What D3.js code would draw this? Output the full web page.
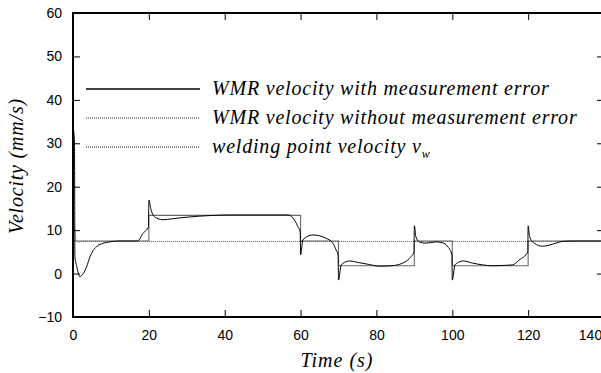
<!DOCTYPE html>
<html>
<head>
<meta charset="utf-8">
<script src="https://cdn.jsdelivr.net/npm/d3@7"></script>
<style>
  body { margin: 0; background: #fff; }
  svg { display: block; }
  .serif { font-family: 'Liberation Serif', 'DejaVu Serif', serif; font-style: italic; font-size: 20px; letter-spacing: 0.8px; }
  .tick text { font-family: 'Liberation Sans', Arial, sans-serif; font-size: 14px; }
</style>
</head>
<body>
<script>
// chart size and plot frame
const width = 601;
const height = 373;
const margin = { top: 13, left: 73, bottom: 56 };
const plotRight = 604; // right border lies just past the window edge

// x/y ticks
const xTicks = [0, 20, 40, 60, 80, 100, 120, 140];
const yTicks = [-10, 0, 10, 20, 30, 40, 50, 60];

// welding point velocity (square wave): breakpoints and levels
const stepTimes = [0, 20, 60, 70, 90, 100, 120, 140];
const stepLevels = [7.5, 13.4, 7.5, 1.8, 7.5, 1.8, 7.5, 7.5];

const errTimes = [0, 0.4, 0.5, 1, 1.8, 2.7, 3.6, 4.5, 5.3, 6.2, 8, 9.7, 12, 17, 18.5, 19.9,
  20, 20.5, 21.1, 22.5, 23.8, 26, 29, 33, 37, 42, 56.7, 58.4, 59.3, 59.9,
  60, 60.6, 61.9, 63.2, 65, 66.8, 68.5, 69.4, 69.9,
  70, 70.7, 71.1, 72.9, 75.5, 78, 80.8, 84, 86.9, 88.7, 89.9,
  90, 90.4, 91.3, 93, 95.7, 97.4, 98.8, 99.9,
  100, 100.7, 101.1, 102.9, 105.4, 108, 110.6, 114, 115.9, 117.6, 119.9,
  120, 120.4, 121.6, 123.8, 127.3, 129, 132, 140];
const errValues = [34, 30, 4, 1.6, -0.7, 0, 1.6, 3.9, 5.3, 6.2, 7, 7.3, 7.5, 7.5, 9.3, 10.8,
  16.9, 15, 13.5, 12.6, 12.4, 12.6, 12.9, 13.2, 13.4, 13.5, 13.5, 12.3, 10.8, 9.6,
  4.3, 7.7, 8.6, 8.9, 8.7, 8.1, 7, 5.4, 4.3,
  -1.5, 2, 2.3, 2.9, 2.5, 2.1, 1.7, 1.8, 2.4, 3.5, 5,
  11, 8.5, 7.3, 7, 7.3, 7.1, 6.2, 4.3,
  -1.5, 2, 2.3, 2.9, 2.4, 2.0, 1.8, 1.9, 2, 3.1, 5,
  11, 8.5, 7, 6.3, 7, 7.4, 7.5, 7.5];

// WMR velocity without measurement error
const idealTimes = [0, 0.3, 0.8, 1.3, 2.5, 140];
const idealValues = [14.5, 11, 7.6, 7.2, 7.4, 7.4];

// legend entries
const legendLabels = [
  'WMR velocity with measurement error',
  'WMR velocity without measurement error',
  'welding point velocity v'
];

const svg = d3.select('body').append('svg')
    .attr('width', width)
    .attr('height', height);

const x = d3.scaleLinear().domain([0, 140]).range([margin.left, plotRight]);
const y = d3.scaleLinear().domain([-10, 60]).range([height - margin.bottom, margin.top]);

const line = d3.line().x(d => x(d[0])).y(d => y(d[1]));

// square wave
svg.append('path')
    .datum(stepTimes.map((t, i) => [t, stepLevels[i]]))
    .attr('fill', 'none')
    .attr('stroke', '#6a6a6a')
    .attr('stroke-width', 1.1)
    .attr('d', line.curve(d3.curveStepAfter));

// dotted ideal velocity
svg.append('path')
    .datum(idealTimes.map((t, i) => [t, idealValues[i]]))
    .attr('fill', 'none')
    .attr('stroke', '#555')
    .attr('stroke-width', 1)
    .attr('stroke-dasharray', '1,1')
    .attr('d', line.curve(d3.curveLinear));

// velocity with measurement error
svg.append('path')
    .datum(errTimes.map((t, i) => [t, errValues[i]]))
    .attr('fill', 'none')
    .attr('stroke', '#000')
    .attr('stroke-width', 1)
    .attr('d', line.curve(d3.curveMonotoneX));

// axes with inward ticks, on all four sides
const tickLen = 7;
svg.append('g')
    .attr('transform', `translate(0,${y(-10)})`)
    .call(d3.axisBottom(x).tickValues(xTicks).tickSizeInner(-tickLen).tickSizeOuter(0).tickPadding(13))
    .call(g => g.select('.domain').remove())
    // last label sits pulled in from the edge
    .call(g => g.selectAll('.tick text').filter(d => d === 140).attr('dx', -14));
svg.append('g')
    .attr('transform', `translate(0,${y(60)})`)
    .call(d3.axisTop(x).tickValues(xTicks.slice(1, -1)).tickSizeInner(-tickLen).tickSizeOuter(0).tickFormat(''))
    .call(g => g.select('.domain').remove());
svg.append('g')
    .attr('transform', `translate(${margin.left},0)`)
    .call(d3.axisLeft(y).tickValues(yTicks).tickSizeInner(-tickLen).tickSizeOuter(0).tickPadding(11))
    .call(g => g.select('.domain').remove());
svg.append('g')
    .attr('transform', `translate(${plotRight},0)`)
    .call(d3.axisRight(y).tickValues(yTicks.slice(1, -1)).tickSizeInner(-tickLen).tickSizeOuter(0).tickFormat(''))
    .call(g => g.select('.domain').remove());

svg.selectAll('.tick line').attr('stroke', '#000').attr('stroke-width', 1);
svg.selectAll('.tick text').attr('fill', '#000');

// frame
svg.append('rect')
    .attr('x', margin.left)
    .attr('y', margin.top)
    .attr('width', plotRight - margin.left)
    .attr('height', y(-10) - margin.top)
    .attr('fill', 'none')
    .attr('stroke', '#000')
    .attr('stroke-width', 2);

// legend
const legendStyles = [
  { dash: null, color: '#000', w: 1.3 },
  { dash: '1,1', color: '#333', w: 1 },
  { dash: '1,1', color: '#111', w: 1 }
];
const legend = svg.append('g').attr('class', 'legend');
legendLabels.forEach((label, i) => {
  const ly = 89 + i * 29;
  legend.append('line')
      .attr('x1', 86).attr('x2', 200)
      .attr('y1', ly).attr('y2', ly)
      .attr('stroke', legendStyles[i].color)
      .attr('stroke-width', legendStyles[i].w)
      .attr('stroke-dasharray', legendStyles[i].dash);
  const t = legend.append('text')
      .attr('class', 'serif')
      .attr('x', 212)
      .attr('y', ly + 6)
      .text(label);
  if (i === 2) {
    t.append('tspan').attr('dy', 5).style('font-size', '12px').text('w');
  }
});

// axis titles
svg.append('text')
    .attr('class', 'serif')
    .attr('transform', 'translate(23,166) rotate(-90)')
    .attr('text-anchor', 'middle')
    .text('Velocity (mm/s)');
svg.append('text')
    .attr('class', 'serif')
    .attr('x', 337)
    .attr('y', 367)
    .attr('text-anchor', 'middle')
    .style('letter-spacing', '1px')
    .text('Time (s)');
</script>
</body>
</html>
